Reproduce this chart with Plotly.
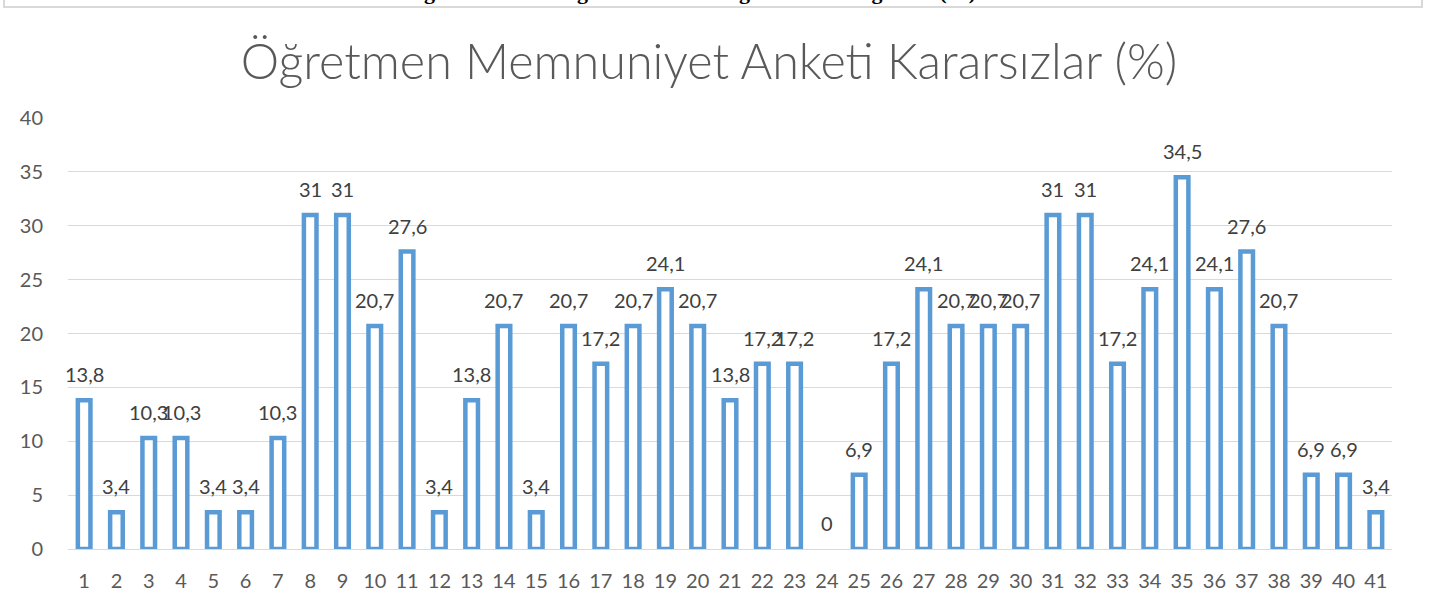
import plotly.graph_objects as go

categories = [str(i) for i in range(1, 42)]
values = [13.8, 3.4, 10.3, 10.3, 3.4, 3.4, 10.3, 31, 31, 20.7, 27.6, 3.4, 13.8, 20.7, 3.4,
          20.7, 17.2, 20.7, 24.1, 20.7, 13.8, 17.2, 17.2, 0, 6.9, 17.2, 24.1, 20.7, 20.7, 20.7,
          31, 31, 17.2, 24.1, 34.5, 24.1, 27.6, 20.7, 6.9, 6.9, 3.4]
labels = [("%g" % v).replace(".", ",") for v in values]
y_ticks = [0, 5, 10, 15, 20, 25, 30, 35, 40]
title_text = "Öğretmen Memnuniyet Anketi Kararsızlar (%)"
top_text = "Öğretmenlerin Değerlendirmesi Bilgilendirme Değerleri (%)"

W, H = 1435, 608
L, R, T, B = 68, 43, 118, 59
pw, ph = W - L - R, H - T - B

def px(x):
    return (x - L) / pw

def py(y):
    return (H - B - y) / ph

fig = go.Figure()
fig.add_trace(go.Bar(
    x=categories, y=values,
    marker=dict(color="white", line=dict(color="#5B9BD5",
                                         width=[0 if v == 0 else 4.5 for v in values])),
    hoverinfo="skip",
))

for i, (v, t) in enumerate(zip(values, labels)):
    fig.add_annotation(x=i, y=v, xref="x", yref="y", text=t, showarrow=False,
                       yanchor="middle", xanchor="center", yshift=26,
                       font=dict(family="Lato", size=20, color="#404040"))

fig.update_layout(
    width=W, height=H,
    margin=dict(l=L, r=R, t=T, b=B),
    paper_bgcolor="white", plot_bgcolor="white",
    bargap=0.61, showlegend=False,
    title=dict(text=title_text, x=709 / W, xanchor="center", xref="container",
               y=1 - 62 / H, yanchor="middle",
               font=dict(family="Lato", size=48.5, color="#595959", weight=300)),
    xaxis=dict(type="category", range=[-0.5, len(categories) - 0.5], autorange=False,
               showgrid=False, showline=False, zeroline=False,
               ticks="", tickfont=dict(family="Lato", size=20, color="#595959"),
               ticklabelstandoff=18),
    yaxis=dict(range=[0, 40], autorange=False, tickvals=y_ticks, showgrid=True,
               gridcolor="#d9d9d9",
               gridwidth=1, zeroline=True, zerolinecolor="#d9d9d9", zerolinewidth=1,
               showline=False, ticks="",
               tickfont=dict(family="Lato", size=20, color="#595959"),
               ticklabelstandoff=24),
    font=dict(family="Lato"),
)

fig.add_shape(type="rect", xref="paper", yref="paper",
              x0=px(4), x1=px(1422), y0=py(-20), y1=py(7),
              line=dict(color="#d9d9d9", width=2), fillcolor="rgba(0,0,0,0)", layer="below")

fig.add_annotation(text="<b>" + top_text + "</b>", xref="paper", yref="paper",
                   x=px(691), y=py(6), xanchor="center", yanchor="bottom", showarrow=False,
                   font=dict(family="Liberation Serif", size=22, color="black"))

fig.write_html("out.html", config={"displayModeBar": False},
               post_script="document.body.style.margin='0';")
